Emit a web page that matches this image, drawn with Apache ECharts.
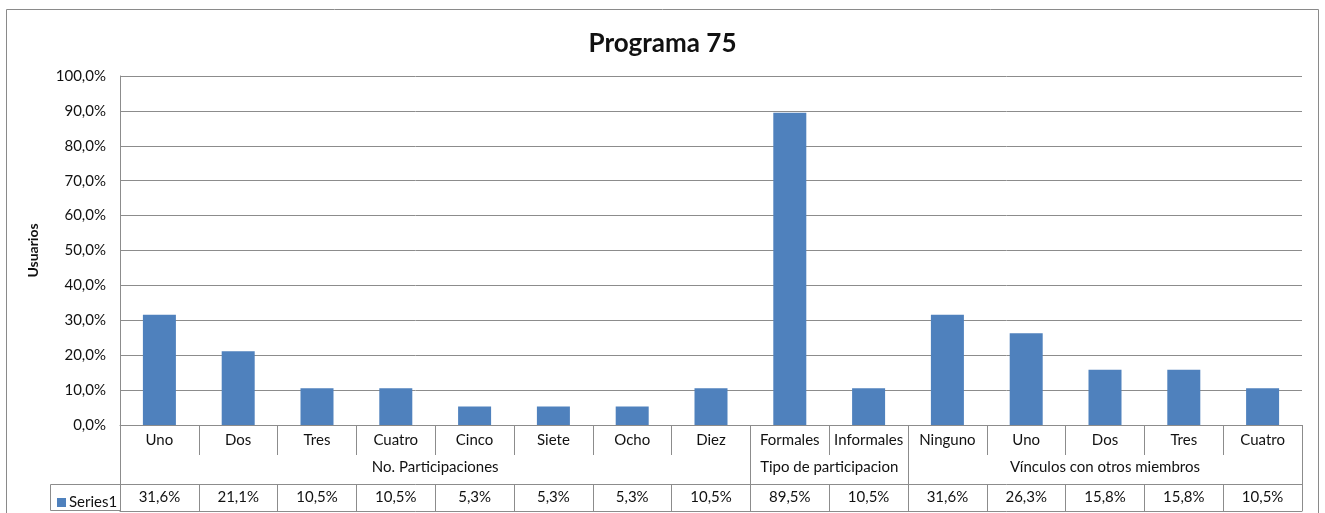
<!DOCTYPE html>
<html>
<head>
<meta charset="utf-8">
<script src="https://cdn.jsdelivr.net/npm/echarts@6/dist/echarts.min.js"></script>
<style>
  html, body { margin: 0; padding: 0; background: #fff; }
  #main { width: 1325px; height: 513px; }
</style>
</head>
<body>
<div id="main"></div>
<script>
// data
var categories = ['Uno', 'Dos', 'Tres', 'Cuatro', 'Cinco', 'Siete', 'Ocho', 'Diez',
  'Formales', 'Informales',
  'Ninguno', 'Uno', 'Dos', 'Tres', 'Cuatro'];
var values = [31.6, 21.1, 10.5, 10.5, 5.3, 5.3, 5.3, 10.5, 89.5, 10.5, 31.6, 26.3, 15.8, 15.8, 10.5];
var groupNames = ['No. Participaciones', 'Tipo de participacion', 'Vínculos con otros miembros'];
var groupSizes = [8, 2, 5];

var FONT = 'Lato, "Open Sans", sans-serif';
var GRID = '#8c8c8c';
var TXT = '#111';

function pct(v) { return v.toFixed(1).replace('.', ',') + '%'; }

// group boundaries and centres, in category units
var bounds = [0], centres = [];
groupSizes.forEach(function (n) {
  var start = bounds[bounds.length - 1];
  centres.push(start + n / 2);
  bounds.push(start + n);
});

var chart = echarts.init(document.getElementById('main'));
chart.setOption({
  animation: false,
  textStyle: { fontFamily: FONT },
  title: {
    text: 'Programa 75',
    left: 'center',
    top: 26,
    textStyle: { fontSize: 26, fontWeight: 'bold', color: TXT, fontFamily: FONT }
  },
  legend: {
    data: ['Series1'],
    left: 52,
    top: 490,
    icon: 'rect',
    itemWidth: 9,
    itemHeight: 9,
    itemGap: 4,
    textStyle: { fontSize: 15, color: TXT, fontFamily: FONT, padding: [0, 0, 0, -2] }
  },
  grid: { left: 120, right: 23, top: 76, bottom: 88, outerBoundsMode: 'none', containLabel: false },
  xAxis: [
    {
      type: 'category',
      position: 'bottom',
      data: categories,
      axisLine: { lineStyle: { color: GRID } },
      axisTick: { show: true, interval: 0, length: 30, lineStyle: { color: GRID } },
      axisLabel: { interval: 0, margin: 8, fontSize: 15, color: TXT, fontFamily: FONT }
    },
    {
      type: 'value',
      position: 'bottom',
      min: 0,
      max: categories.length,
      axisLine: { show: false },
      splitLine: { show: false },
      axisTick: { show: true, customValues: bounds, length: 59, lineStyle: { color: GRID } },
      axisLabel: {
        customValues: centres,
        margin: 35,
        fontSize: 15,
        color: TXT,
        fontFamily: FONT,
        formatter: function (v) { return groupNames[centres.indexOf(v)]; }
      }
    },
    {
      type: 'category',
      position: 'bottom',
      data: categories,
      offset: 59,
      axisLine: { lineStyle: { color: GRID } },
      axisTick: { show: true, interval: 0, length: 27, lineStyle: { color: GRID } },
      axisLabel: {
        interval: 0,
        margin: 6,
        fontSize: 15,
        color: TXT,
        fontFamily: FONT,
        formatter: function (v, i) { return pct(values[i]); }
      }
    },
    {
      type: 'category',
      position: 'bottom',
      data: categories,
      offset: 86,
      axisLine: { lineStyle: { color: GRID } },
      axisTick: { show: false },
      axisLabel: { show: false }
    }
  ],
  yAxis: {
    type: 'value',
    min: 0,
    max: 100,
    interval: 10,
    name: 'Usuarios',
    nameLocation: 'middle',
    nameGap: 80,
    nameRotate: 90,
    nameTextStyle: { fontSize: 14, fontWeight: 'bold', color: TXT, fontFamily: FONT },
    axisLine: { show: true, lineStyle: { color: GRID } },
    axisTick: { show: false },
    splitLine: { lineStyle: { color: GRID } },
    axisLabel: { margin: 14, fontSize: 15, color: TXT, fontFamily: FONT, formatter: pct }
  },
  series: [{
    name: 'Series1',
    type: 'bar',
    data: values,
    barWidth: 33,
    itemStyle: { color: '#4F81BD' }
  }],
  graphic: [
    {
      type: 'rect',
      shape: { x: 6.5, y: 9.5, width: 1312, height: 520 },
      style: { fill: 'none', stroke: '#8a8a8a', lineWidth: 1 },
      silent: true
    },
    {
      type: 'rect',
      shape: { x: 50.5, y: 484.5, width: 70, height: 26 },
      style: { fill: 'none', stroke: GRID, lineWidth: 1 },
      silent: true
    }
  ]
});
</script>
</body>
</html>
